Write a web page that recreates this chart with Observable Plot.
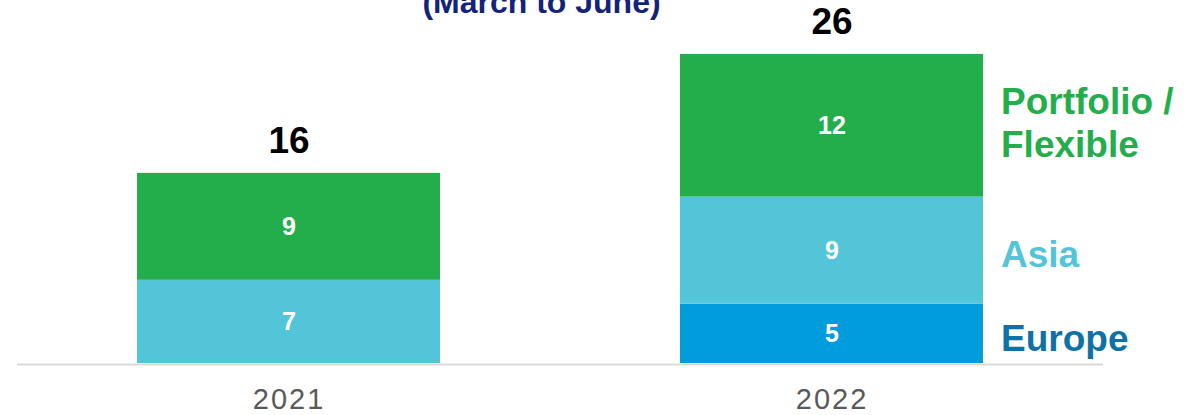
<!DOCTYPE html>
<html>
<head>
<meta charset="utf-8">
<script src="https://cdn.jsdelivr.net/npm/d3@7"></script>
<script src="https://cdn.jsdelivr.net/npm/@observablehq/plot@0.6"></script>
<style>
  html, body { margin: 0; padding: 0; background: #fff; overflow: hidden; }
  #wrap { position: relative; width: 1196px; height: 415px; overflow: hidden; }
  #title { position: absolute; left: 0; width: 1083px; top: -14px; text-align: center;
    font: bold 32px/32px "Liberation Sans", Arial, sans-serif; color: #14237A; z-index: 2; }
  #chart { position: absolute; left: 0; top: 0; }
</style>
</head>
<body>
<div id="wrap">
  <div id="title">(March to June)</div>
  <div id="chart"></div>
</div>
<script>
const years = ["2021", "2022"];
const seriesNames = ["Europe", "Asia", "Portfolio / Flexible"];
const legendLabels = ["Europe", "Asia", "Portfolio /\nFlexible"];
const values2021 = [null, 7, 9];
const values2022 = [5, 9, 12];
const totals = [16, 26];
const barColors = ["#019CDC", "#52C5D9", "#24AE4B"];
const legendColors = ["#0F72A6", "#52C5D9", "#24AE4B"];

const data = [];
[values2021, values2022].forEach((vals, yi) => {
  vals.forEach((v, si) => {
    if (v != null) data.push({year: years[yi], series: seriesNames[si], value: v,
      color: barColors[si], legendColor: legendColors[si], legend: legendLabels[si]});
  });
});
const totalData = years.map((y, i) => ({year: y, total: totals[i]}));
const last = data.filter(d => d.year === years[years.length - 1]);
const multiLine = d => d.legend.includes("\n");

const font = '"Liberation Sans", Arial, sans-serif';
const legendOpts = {x: "year", y: "value", z: "series", order: seriesNames,
  fill: "legendColor", fontWeight: "bold", fontSize: 37, lineHeight: 1.16,
  textAnchor: "start", dx: 169};
const chart = Plot.plot({
  width: 1196,
  height: 415,
  marginLeft: 17,
  marginRight: 93,
  marginTop: 54,
  marginBottom: 52,
  style: {fontFamily: font, background: "transparent"},
  x: {domain: years, paddingInner: 0.442, paddingOuter: 0.221, axis: null},
  y: {domain: [0, 26], axis: null},
  color: {type: "identity"},
  marks: [
    Plot.ruleY([0], {stroke: "#d9d9d9", strokeWidth: 2, dy: 1}),
    Plot.barY(data, Plot.stackY({x: "year", y: "value", z: "series", order: seriesNames, fill: "color"})),
    Plot.text(data, Plot.stackY({x: "year", y: "value", z: "series", order: seriesNames,
      text: d => String(d.value), fill: "white", fontWeight: "bold", fontSize: 25})),
    Plot.text(last, Plot.stackY({...legendOpts, text: d => multiLine(d) ? d.legend : null, dy: -4})),
    Plot.text(last, Plot.stackY({...legendOpts, text: d => multiLine(d) ? null : d.legend, dy: 3})),
    Plot.text(totalData, {x: "year", y: "total", text: d => String(d.total), dy: -32,
      fill: "black", fontWeight: "bold", fontSize: 37}),
    Plot.axisX({tickSize: 0, tickPadding: 25, fontSize: 29, color: "#595959", label: null})
  ]
});
chart.querySelectorAll('[aria-label="x-axis tick label"] text').forEach(t => t.setAttribute("letter-spacing", "2px"));
document.getElementById("chart").appendChild(chart);
</script>
</body>
</html>
